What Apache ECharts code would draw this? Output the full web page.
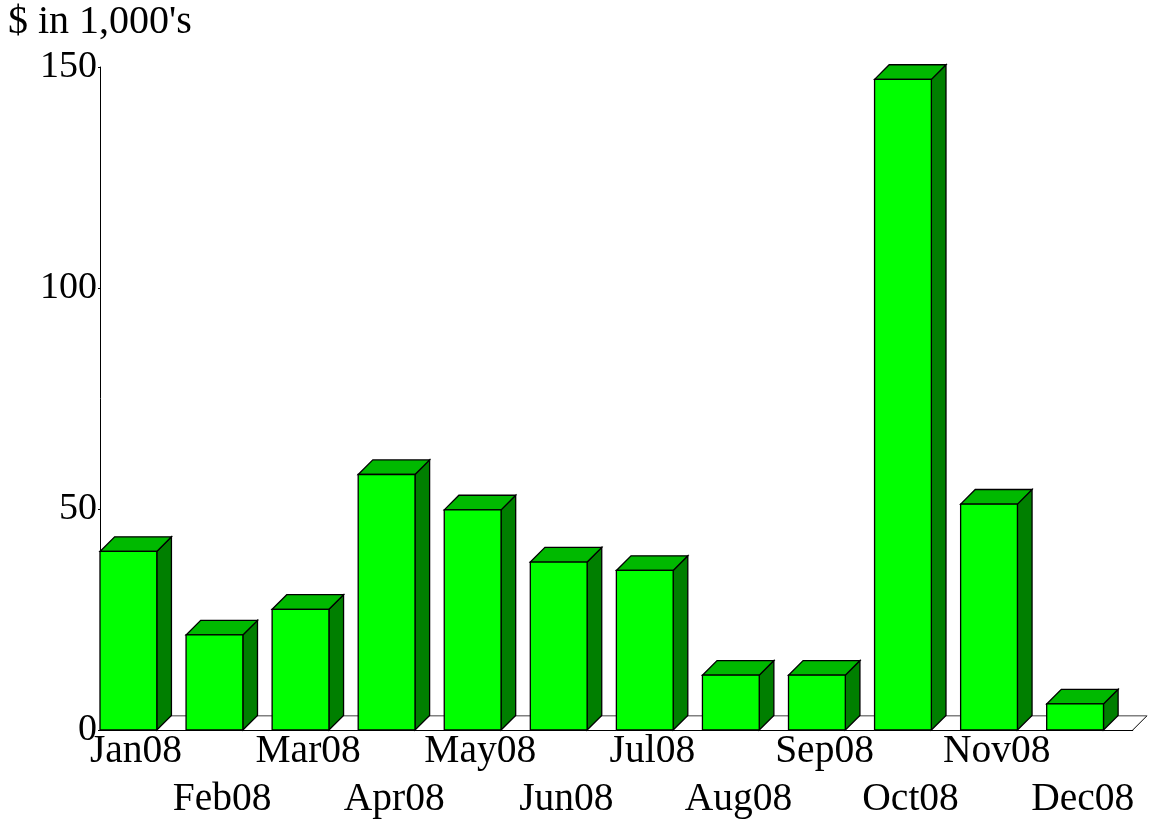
<!DOCTYPE html>
<html>
<head>
<meta charset="utf-8">
<script src="https://cdn.jsdelivr.net/npm/echarts@6/dist/echarts.min.js"></script>
<style>
html,body{margin:0;padding:0;background:#fff;}
#chart{width:1151px;height:824px;}
</style>
</head>
<body>
<div id="chart"></div>
<script>
var categories = ['Jan08','Feb08','Mar08','Apr08','May08','Jun08','Jul08','Aug08','Sep08','Oct08','Nov08','Dec08'];
var values = [40.4, 21.5, 27.3, 57.8, 49.8, 38.0, 36.1, 12.4, 12.4, 147.2, 51.1, 5.9];
var yTicks = [0, 50, 100, 150];
var unitLabel = "$ in 1,000's";

var FONT = '"Liberation Serif", "DejaVu Serif", serif';
var chart = echarts.init(document.getElementById('chart'), null, {renderer: 'canvas'});

function floorItem(params, api) {
  var bw = api.size([1, 0])[0];
  var p0 = api.coord([0, 0]);
  var d = bw * 0.165;
  var left = p0[0] - bw / 2;
  var right = left + categories.length * bw;
  var y0 = p0[1];
  return {
    type: 'group',
    children: [
      {type: 'polygon', shape: {points: [[left, y0], [left + d, y0 - d], [right + d, y0 - d], [right, y0]]},
       style: {fill: '#ffffff', stroke: null}},
      {type: 'line', shape: {x1: left + d, y1: y0 - d, x2: right + d, y2: y0 - d},
       style: {stroke: '#808080', lineWidth: 1.5}},
      {type: 'line', shape: {x1: right, y1: y0, x2: right + d, y2: y0 - d},
       style: {stroke: '#000000', lineWidth: 1}}
    ]
  };
}

function barItem(params, api) {
  var idx = api.value(0);
  var val = api.value(1);
  var bw = api.size([1, 0])[0];
  var c = api.coord([idx, val]);
  var b = api.coord([idx, 0]);
  var d = bw * 0.17;
  var x0 = c[0] - bw / 2;
  var x1 = x0 + bw * 0.66;
  var yT = c[1];
  var yB = b[1];
  var st = {stroke: '#000000', lineWidth: 1.3, lineJoin: 'miter'};
  return {
    type: 'group',
    children: [
      {type: 'polygon', shape: {points: [[x1, yB], [x1 + d, yB - d], [x1 + d, yT - d], [x1, yT]]},
       style: Object.assign({fill: '#007f00'}, st)},
      {type: 'polygon', shape: {points: [[x0, yT], [x0 + d, yT - d], [x1 + d, yT - d], [x1, yT]]},
       style: Object.assign({fill: '#00b900'}, st)},
      {type: 'rect', shape: {x: x0, y: yT, width: x1 - x0, height: yB - yT},
       style: Object.assign({fill: '#00ff00'}, st)}
    ]
  };
}

var option = {
  animation: false,
  backgroundColor: '#ffffff',
  title: {
    text: unitLabel,
    left: 8, top: 2, padding: 0,
    textStyle: {fontFamily: FONT, fontSize: 40, fontWeight: 'normal', color: '#000'}
  },
  grid: {left: 100, right: 12, top: 67, bottom: 93, containLabel: false},
  xAxis: {
    type: 'category',
    data: categories,
    boundaryGap: true,
    axisLine: {show: true, lineStyle: {color: '#000', width: 1}},
    axisTick: {show: false},
    splitLine: {show: false},
    axisLabel: {
      interval: 0,
      margin: -2,
      fontFamily: FONT, fontSize: 39.5, color: '#000',
      lineHeight: 48,
      padding: [0, 14, 0, 0],
      formatter: function (v, i) { return i % 2 ? '\n' + v : v; }
    },
    z: 10
  },
  yAxis: {
    type: 'value',
    min: 0, max: 150, interval: 50,
    axisLine: {show: true, lineStyle: {color: '#000', width: 1}},
    axisTick: {show: true, length: 2, lineStyle: {color: '#000'}},
    splitLine: {show: false},
    axisLabel: {
      margin: 3,
      fontFamily: FONT, fontSize: 38, color: '#000',
      formatter: function (v) { return yTicks.indexOf(v) >= 0 ? String(v) : ''; }
    }
  },
  series: [
    {
      type: 'custom',
      renderItem: floorItem,
      data: [[0, 0]],
      clip: false,
      silent: true,
      z: 1
    },
    {
      type: 'custom',
      renderItem: barItem,
      data: values.map(function (v, i) { return [i, v]; }),
      encode: {x: 0, y: 1},
      clip: false,
      z: 2
    }
  ]
};
chart.setOption(option);
</script>
</body>
</html>
